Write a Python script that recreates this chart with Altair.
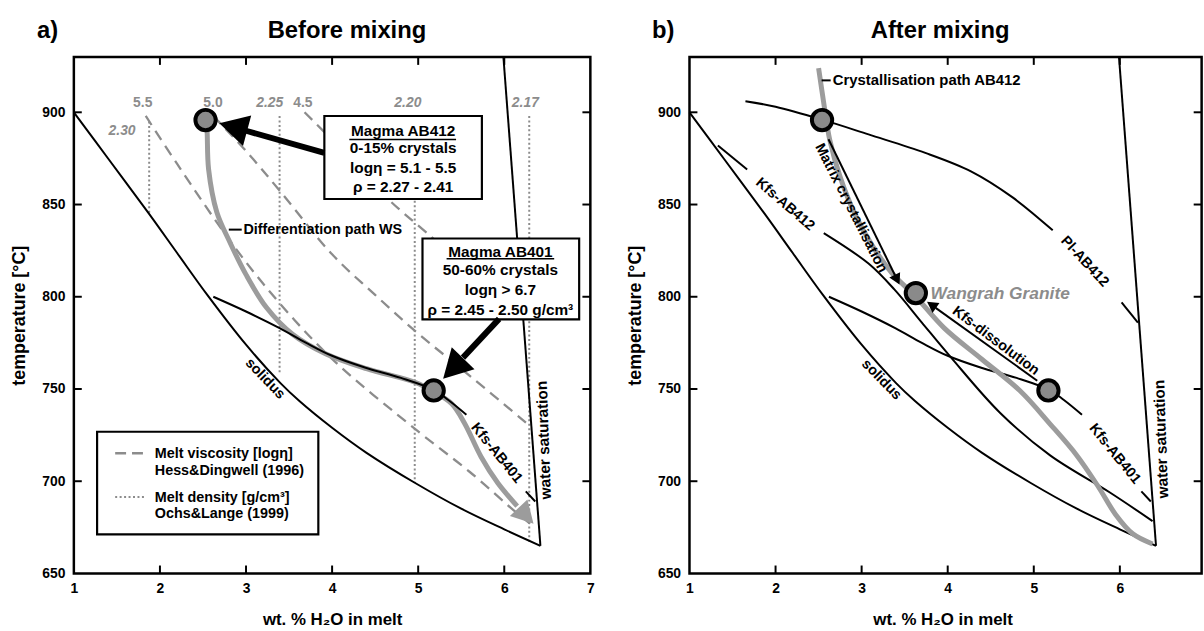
import altair as alt
import pandas as pd

FONT = "Liberation Sans"
GRAY = "#8c8c8c"
PATHGRAY = "#9c9c9c"
ARROW = "M0,0L-1,-0.55L-1,0.55Z"

# ---------------- axes / ticks ----------------
x_ticks_left = [1, 2, 3, 4, 5, 6, 7]
x_ticks_right = [1, 2, 3, 4, 5, 6]
y_ticks = [650, 700, 750, 800, 850, 900]
inner_x = [2, 3, 4, 5, 6]
inner_y = [700, 750, 800, 850, 900]

# ---------------- shared curves (wt.% H2O, T degC) ----------------
solidus_x = [1.0, 1.4, 1.87, 2.2, 2.55, 3.0, 3.4, 3.62, 4.0, 4.4, 4.97, 5.5, 6.0, 6.42]
solidus_t = [900, 874.8, 845.2, 823.7, 801, 774, 753.2, 743.5, 729, 715.4, 698.9, 685.1, 673.9, 665]
wsat_x = [5.99, 6.42]
wsat_t = [930, 665]
kfs401_x = [2.62, 3.0, 3.39, 3.7, 4.0, 4.39, 4.8, 5.18, 5.35, 5.56]
kfs401_t = [800, 792, 783, 775, 768, 761.5, 756, 749.5, 744, 736]
kfs401b_x = [6.25, 6.36]
kfs401b_t = [694.5, 689]

# ---------------- panel a ----------------
diff_x = [2.53, 2.546, 2.565, 2.66, 2.81, 3.0, 3.24, 3.54, 3.93, 4.4, 4.97, 5.18, 5.39, 5.54, 5.73, 5.925, 6.15]
diff_t = [895.8, 890.8, 869.2, 846, 829.8, 812, 794, 779.7, 769, 761, 753.5, 748.5, 742, 731.3, 713.3, 699, 686.5]
visc55_x = [1.835, 2.2, 2.85, 3.4, 4.03, 5.0, 5.6, 6.14, 6.3]
visc55_t = [898, 872, 828, 796, 765, 727, 705, 683, 677]
visc50_x = [2.62, 3.0, 3.4, 4.0, 4.5, 5.0, 5.5, 6.31]
visc50_t = [898, 879, 857, 823, 801, 780, 761, 729.5]
visc45_x = [3.68, 4.0, 4.65, 5.09, 5.6, 6.15]
visc45_t = [900, 885, 853, 835, 814, 792]
dens_x = [1.875, 3.39, 4.96, 6.29]
dens_top = [895, 898, 898, 898]
dens_bot = [845, 759, 699, 666]
visc_labels = ["5.5", "5.0", "4.5"]
visc_lab_x = [1.80, 2.616, 3.66]
visc_lab_t = [905, 905, 905]
dens_labels = ["2.30", "2.25", "2.20", "2.17"]
dens_lab_x = [1.56, 3.275, 4.88, 6.245]
dens_lab_t = [889.9, 905, 905, 905]

box412 = [3.91, 5.74, 853, 898]
box412_lines = ["Magma AB412", "0-15% crystals", "log\u03b7 = 5.1 - 5.5", "\u03c1 = 2.27 - 2.41"]
box412_t = [890, 880.5, 869.8, 859.4]
box412_cx = 4.825
box412_ul = [4.20, 5.44, 885.3]
box401 = [5.05, 6.87, 787.7, 831.6]
box401_lines = ["Magma AB401", "50-60% crystals", "log\u03b7 > 6.7", "\u03c1 = 2.45 - 2.50 g/cm\u00b3"]
box401_t = [824.5, 814.6, 803.9, 793]
box401_cx = 5.955
box401_ul = [5.33, 6.58, 820.6]

legend_box = [1.27, 3.84, 671.2, 726.8]
legend_lines = ["Melt viscosity [log\u03b7]", "Hess&Dingwell (1996)", "Melt density [g/cm\u00b3]", "Ochs&Lange (1999)"]
legend_t = [714.8, 705.4, 691.1, 682.1]
legend_tx = 1.94

circles_a_x = [2.53, 5.18]
circles_a_t = [895.8, 749.2]

# ---------------- panel b ----------------
pl412_x = [1.65, 2.0, 2.54, 3.08, 3.74, 4.27, 4.75, 5.22]
pl412_t = [906, 903, 896, 888, 878, 868, 854, 836]
pl412b_x = [6.02, 6.21]
pl412b_t = [797, 786]
kfs412_x = [1.33, 1.67]
kfs412_t = [882, 869]
kfs412b_x = [2.56, 3.08, 3.38, 3.7, 4.04, 4.61, 5.19, 5.88, 6.38]
kfs412b_t = [834.5, 818, 804, 786, 767, 737, 714, 694, 678.4]
cryst_x = [2.5, 2.56, 2.63, 2.75, 2.92, 3.12, 3.35, 3.63, 3.96, 4.4, 4.84, 5.19, 5.5, 5.75, 5.95, 6.15, 6.38]
cryst_t = [924, 905, 885, 865, 845, 828, 813, 800, 783, 766, 749, 731, 714, 697, 682, 671.5, 666]
circles_b_x = [2.54, 3.63, 5.17]
circles_b_t = [895.8, 802, 749.2]

# ---------------- geometry ----------------
H = 521
W = {"a": 521, "b": 516.6}
XDOM = {"a": [1, 7], "b": [1, 6.95]}
XVALS = {"a": x_ticks_left, "b": x_ticks_right}
XTITLE_X = {"a": 260.5, "b": 255.3}
INTERP = "catmull-rom"


def x_axis(p):
    return alt.Axis(values=XVALS[p], title="wt. % H\u2082O in melt", format="d", labelFlush=False,
                    ticks=False, tickSize=0, domain=False, grid=False, labelPadding=8,
                    labelFont=FONT, labelFontSize=14, labelFontWeight="bold", labelColor="black",
                    titleFont=FONT, titleFontSize=17, titleFontWeight="bold", titleColor="black",
                    titleX=XTITLE_X[p], titleY=47, titleBaseline="middle", titleAlign="center")


Y_AXIS = alt.Axis(values=y_ticks, title="temperature [\u00b0C]", format="d", ticks=False, tickSize=0,
                  domain=False, grid=False, labelPadding=9,
                  labelFont=FONT, labelFontSize=14, labelFontWeight="bold", labelColor="black",
                  titleFont=FONT, titleFontSize=18, titleFontWeight="bold", titleColor="black",
                  titleX=-54.5, titleY=H / 2, titleAngle=270, titleBaseline="middle", titleAlign="center")
YS = alt.Scale(domain=[650, 930], nice=False, zero=False)


def XE(p, f="x"):
    return alt.X(f"{f}:Q", scale=alt.Scale(domain=XDOM[p], nice=False, zero=False), axis=x_axis(p))


def YE(f="t"):
    return alt.Y(f"{f}:Q", scale=YS, axis=Y_AXIS)


def lines(p, segs, **mk):
    rows = []
    for name, xs, ts in segs:
        for i, (x, t) in enumerate(zip(xs, ts)):
            rows.append({"x": x, "t": t, "seg": name, "o": i})
    return alt.Chart(pd.DataFrame(rows)).mark_line(interpolate=INTERP, **mk).encode(
        x=XE(p), y=YE(), detail="seg:N", order="o:Q")


def rules(p, x1, t1, x2, t2, **mk):
    df = pd.DataFrame({"x": x1, "t": t1, "x2": x2, "t2": t2})
    return alt.Chart(df).mark_rule(**mk).encode(x=XE(p), y=YE(), x2="x2:Q", y2="t2:Q")


def rects(p, x1, x2, t1, t2, **mk):
    df = pd.DataFrame({"x": x1, "t": t1, "x2": x2, "t2": t2})
    return alt.Chart(df).mark_rect(**mk).encode(x=XE(p), y=YE(), x2="x2:Q", y2="t2:Q")


def points(p, xs, ts, **mk):
    df = pd.DataFrame({"x": xs, "t": ts})
    return alt.Chart(df).mark_point(**mk).encode(x=XE(p), y=YE())


def texts(p, xs, ts, labels, size=14, color="black", **mk):
    df = pd.DataFrame({"x": xs, "t": ts, "txt": labels})
    return alt.Chart(df).mark_text(font=FONT, fontWeight="bold", fontSize=size, color=color, **mk).encode(
        x=XE(p), y=YE(), text="txt:N")


def arrowhead(p, x, t, ang, length, color="black"):
    return points(p, [x], [t], shape=ARROW, filled=True, color=color, opacity=1, strokeWidth=0,
                  size=(2 * length) ** 2, angle=ang)


def circles(p, xs, ts):
    return points(p, xs, ts, shape="circle", filled=True, fill="#8a8a8a", stroke="black",
                  strokeWidth=4, size=420, opacity=1)


def ticks(p):
    w = W[p]
    dx = pd.DataFrame({"v": inner_x})
    dy = pd.DataFrame({"v": inner_y})
    m = dict(color="black", strokeWidth=2)
    return [
        alt.Chart(dx).mark_rule(**m).encode(x=XE(p, "v"), y=alt.value(H), y2=alt.value(H - 8)),
        alt.Chart(dx).mark_rule(**m).encode(x=XE(p, "v"), y=alt.value(0), y2=alt.value(8)),
        alt.Chart(dy).mark_rule(**m).encode(y=YE("v"), x=alt.value(0), x2=alt.value(8)),
        alt.Chart(dy).mark_rule(**m).encode(y=YE("v"), x=alt.value(w), x2=alt.value(w - 8)),
    ]


def heading(letter, title, tx):
    d1 = pd.DataFrame({"txt": [letter]})
    d2 = pd.DataFrame({"txt": [title]})
    m = dict(font=FONT, fontWeight="bold", fontSize=24, color="black", baseline="middle", align="center")
    return [
        alt.Chart(d1).mark_text(**m).encode(x=alt.value(-26.5), y=alt.value(-26.3), text="txt:N"),
        alt.Chart(d2).mark_text(**m).encode(x=alt.value(tx), y=alt.value(-26.3), text="txt:N"),
    ]


# ================= panel a =================
p = "a"
layers_a = [
    rules(p, dens_x, dens_top, dens_x, dens_bot, color=GRAY, strokeWidth=2, strokeDash=[2, 2.5]),
    lines(p, [("v55", visc55_x, visc55_t), ("v50", visc50_x, visc50_t), ("v45", visc45_x, visc45_t)],
          color=GRAY, strokeWidth=2.3, strokeDash=[11, 7]),
    lines(p, [("diff", diff_x, diff_t)], color=PATHGRAY, strokeWidth=5),
    lines(p, [("sol", solidus_x, solidus_t), ("ws", wsat_x, wsat_t), ("k1", kfs401_x, kfs401_t),
              ("k2", kfs401b_x, kfs401b_t)], color="black", strokeWidth=2),
    arrowhead(p, 6.34, 677, 47, 22, color=PATHGRAY),
    rects(p, [legend_box[0]], [legend_box[1]], [legend_box[2]], [legend_box[3]],
          fill="white", stroke="black", strokeWidth=2.2),
    rules(p, [1.48], [715.2], [1.86], [715.2], color=GRAY, strokeWidth=2.5, strokeDash=[11, 6]),
    rules(p, [1.48], [691.5], [1.83], [691.5], color=GRAY, strokeWidth=2, strokeDash=[2, 2.5]),
    texts(p, [legend_tx] * 4, legend_t, legend_lines, size=14.5, align="left", baseline="middle"),
    rects(p, [box412[0], box401[0]], [box412[1], box401[1]], [box412[2], box401[2]], [box412[3], box401[3]],
          fill="white", stroke="black", strokeWidth=2.2),
    texts(p, [box412_cx] * 4, box412_t, box412_lines, size=15.5, align="center", baseline="middle"),
    texts(p, [box401_cx] * 4, box401_t, box401_lines, size=15.5, align="center", baseline="middle"),
    rules(p, [box412_ul[0], box401_ul[0]], [box412_ul[2], box401_ul[2]],
          [box412_ul[1], box401_ul[1]], [box412_ul[2], box401_ul[2]], color="black", strokeWidth=1.5),
    rules(p, [3.91, 5.94], [878, 788], [3.0, 5.52], [890, 767], color="black", strokeWidth=6),
    arrowhead(p, 2.69, 894, 195, 29),
    arrowhead(p, 5.29, 755.5, 134, 29),
    circles(p, circles_a_x, circles_a_t),
    rules(p, [2.80], [836.4], [2.95], [836.4], color="black", strokeWidth=2),
    texts(p, [2.97], [836.4], ["Differentiation path WS"], size=14.5, align="left", baseline="middle"),
    texts(p, visc_lab_x, visc_lab_t, visc_labels, size=14, color=GRAY, align="center", baseline="middle"),
    texts(p, dens_lab_x, dens_lab_t, dens_labels, size=14, color=GRAY, fontStyle="italic",
          align="center", baseline="middle"),
    texts(p, [3.22], [755.5], ["solidus"], size=14.5, angle=46, align="center", baseline="middle"),
    texts(p, [5.91], [715.2], ["Kfs-AB401"], size=14.5, angle=51, align="center", baseline="middle"),
    texts(p, [6.46], [722.3], ["water saturation"], size=15.5, angle=268, align="center", baseline="middle"),
] + ticks(p) + heading("a)", "Before mixing", 275.5)

left = alt.layer(*layers_a).properties(width=W["a"], height=H)

# ================= panel b =================
p = "b"
layers_b = [
    lines(p, [("sol", solidus_x, solidus_t), ("ws", wsat_x, wsat_t), ("k1", kfs401_x, kfs401_t),
              ("k2", kfs401b_x, kfs401b_t), ("p1", pl412_x, pl412_t), ("p2", pl412b_x, pl412b_t),
              ("q1", kfs412_x, kfs412_t), ("q2", kfs412b_x, kfs412b_t)], color="black", strokeWidth=2),
    lines(p, [("cr", cryst_x, cryst_t)], color=PATHGRAY, strokeWidth=5),
    rules(p, [2.535], [917.3], [2.64], [917.3], color="black", strokeWidth=2),
    rules(p, [2.615, 5.04], [885.4, 754.5], [3.39, 3.86], [811.4, 794], color="black", strokeWidth=2),
    arrowhead(p, 3.44, 806.6, 64, 11),
    arrowhead(p, 3.76, 797.3, 215, 11),
    circles(p, circles_b_x, circles_b_t),
    texts(p, [2.665], [917.3], ["Crystallisation path AB412"], size=15, align="left", baseline="middle"),
    texts(p, [2.875], [848], ["Matrix crystallisation"], size=14.5, angle=63, align="center", baseline="middle"),
    texts(p, [4.556], [776], ["Kfs-dissolution"], size=14.5, angle=37, align="center", baseline="middle"),
    texts(p, [3.80], [801.5], ["Wangrah Granite"], size=17.5, color=GRAY, fontStyle="italic",
          align="left", baseline="middle"),
    texts(p, [2.11], [850], ["Kfs-AB412"], size=14.5, angle=41, align="center", baseline="middle"),
    texts(p, [5.59], [819], ["Pl-AB412"], size=14.5, angle=47, align="center", baseline="middle"),
    texts(p, [3.23], [755], ["solidus"], size=14.5, angle=46, align="center", baseline="middle"),
    texts(p, [5.94], [714.8], ["Kfs-AB401"], size=14.5, angle=51, align="center", baseline="middle"),
    texts(p, [6.48], [722.8], ["water saturation"], size=15.5, angle=268, align="center", baseline="middle"),
] + ticks(p) + heading("b)", "After mixing", 252.8)

right = alt.layer(*layers_b).properties(width=W["b"], height=H)

chart = alt.hconcat(left, right, spacing=29).properties(
    padding={"left": 9.5, "top": 14.7, "right": 0, "bottom": 0},
    background="white",
).configure_view(stroke="black", strokeWidth=2.5)

chart.save("out.html", embed_options={"renderer": "svg", "actions": False})
